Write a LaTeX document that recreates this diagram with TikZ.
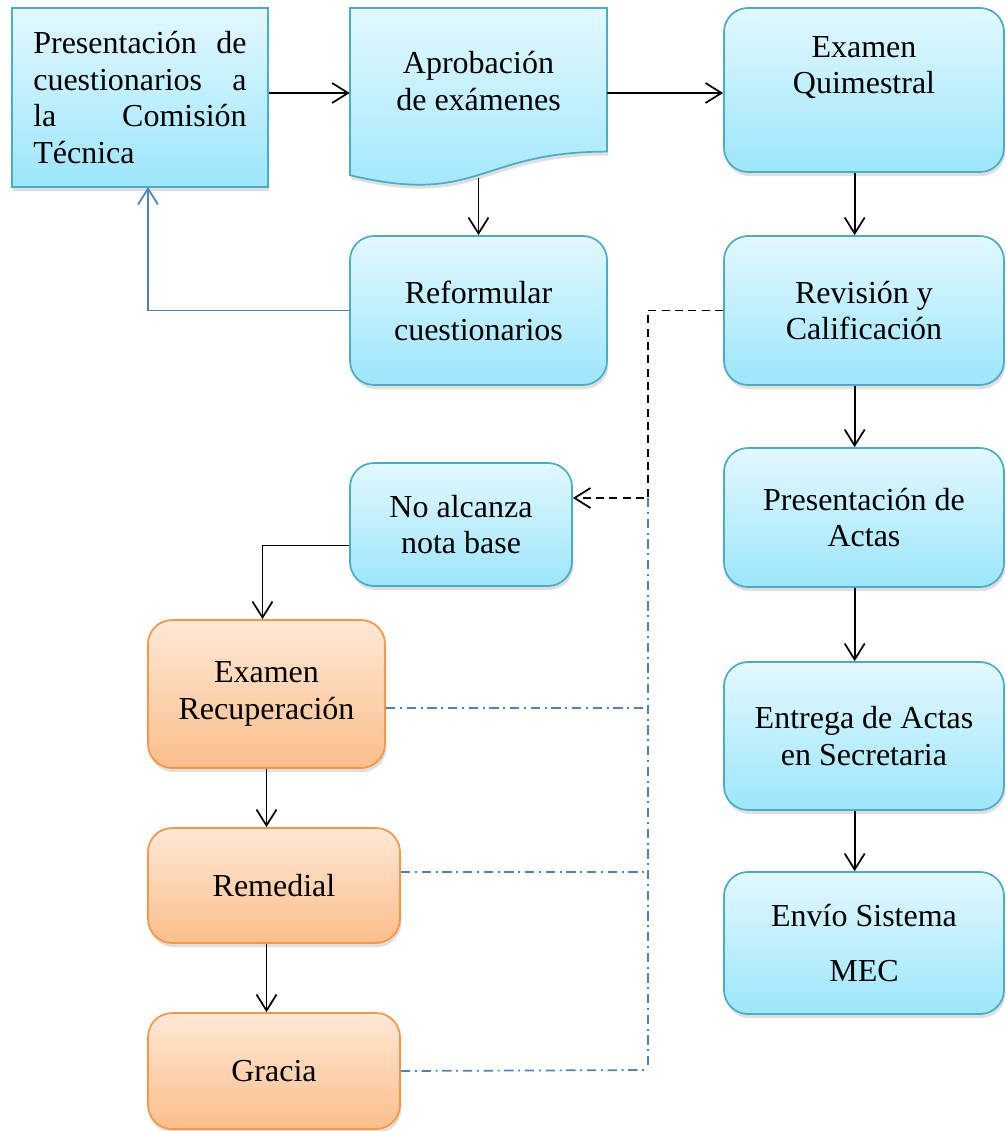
\documentclass[tikz,border=0pt]{standalone}
\usepackage{fontspec}
\setmainfont{Liberation Serif}
\usetikzlibrary{arrows.meta,shadows}

\definecolor{azularriba}{HTML}{E2F8FE}
\definecolor{azulabajo}{HTML}{9CE6FB}
\definecolor{azulborde}{HTML}{4BACC6}
\definecolor{narriba}{HTML}{FEE8D6}
\definecolor{nabajo}{HTML}{FBBE8A}
\definecolor{nborde}{HTML}{F79646}
\definecolor{lineaazul}{HTML}{4F81BD}

\newcommand{\lineajust}[1]{\leavevmode\hbox to 160pt{#1}}

\tikzset{
  caja/.style={draw=azulborde, line width=1.3pt, top color=azularriba, bottom color=azulabajo,
    rounded corners=18pt, align=center, inner sep=0pt,
    drop shadow={shadow xshift=1pt, shadow yshift=-3pt, opacity=0.25},
    font=\fontsize{24}{27.6}\selectfont},
  cajan/.style={caja, draw=nborde, top color=narriba, bottom color=nabajo},
  tam/.style 2 args={minimum width=#1*0.75pt, minimum height=#2*0.75pt},
  flecha/.style={line width=1.3pt, -{Straight Barb[length=12pt,width=15pt]}},
  flechaazul/.style={flecha, draw=lineaazul},
  discont/.style={flecha, dash pattern=on 6pt off 4pt},
  rayapunto/.style={draw=lineaazul, line width=1.3pt, dash pattern=on 7pt off 3.5pt on 1.5pt off 3.5pt}
}

\begin{document}
\begin{tikzpicture}[x=0.75pt,y=-0.75pt]
    \useasboundingbox (0,0) rectangle (1006,1131);
    % Documento: Aprobacion de examenes (borde ondulado abajo)
    \path[caja, sharp corners] (350,8) -- (607,8) -- (607,151.6)
        .. controls (478.5,151.6) and (478.5,206.2) .. (350,175.2) -- cycle;
    \node[align=center, inner sep=0pt, tam={257}{170}, font=\fontsize{24}{27.6}\selectfont]
        (aprob) at (478.5,93) {Aprobación\\de exámenes\\[-10pt]\mbox{}};
    % Columna de la izquierda arriba
    \node[caja, sharp corners, tam={256}{179}, text width=160pt, align=left] (presenta) at (140,97.5)
        {\lineajust{Presentación\hfill de}\\\lineajust{cuestionarios\hfill a}\\
         \lineajust{la\hfill Comisión}\\Técnica};
    \node[caja, tam={257}{149}] (reform) at (478.5,310.5) {Reformular\\cuestionarios};
    \node[caja, tam={222}{123}] (nota) at (461,524.5) {No alcanza\\nota base};
    % Columna de la derecha
    \node[caja, tam={280}{164}] (examen) at (864,90) {Examen\\Quimestral\\[10pt]\mbox{}};
    \node[caja, tam={280}{149}] (revision) at (864,310.5) {Revisión y\\Calificación};
    \node[caja, tam={280}{139}] (actas) at (864,517.5) {Presentación de\\Actas};
    \node[caja, tam={280}{148}] (entrega) at (864,736) {Entrega de Actas\\en Secretaria};
    \node[caja, tam={280}{142}] (envio) at (864,943) {Envío Sistema\\[13pt]MEC};
    % Recuperaciones (naranja)
    \node[cajan, tam={237}{148}] (recup) at (266.5,694) {Examen\\Recuperación};
    \node[cajan, tam={252}{115}] (remed) at (274,885.5) {Remedial};
    \node[cajan, tam={252}{116}] (gracia) at (274,1071) {Gracia};

    % Flechas principales
    \draw[flecha] (presenta.east |- aprob.west) -- (aprob.west);
    \draw[flecha] (aprob.east) -- (aprob.east -| examen.west);
    \draw[flecha] (aprob.south) -- (reform.north);
    \coordinate (retorno) at (148,187);
    \draw[flechaazul] (reform.west) -| (retorno);
    \draw[flecha] ([xshift=-7pt]examen.south) -- ([xshift=-7pt]revision.north);
    \draw[flecha] ([xshift=-7pt]revision.south) -- ([xshift=-7pt]actas.north);
    \draw[flecha] ([xshift=-7pt]actas.south) -- ([xshift=-7pt]entrega.north);
    \draw[flecha] ([xshift=-7pt]entrega.south) -- ([xshift=-7pt]envio.north);
    % Rama de los que no alcanzan
    \coordinate (cruce) at (648,498);
    \coordinate (fin) at (648,1070);
    \draw[discont] (revision.west) -| (cruce) -- (cruce -| nota.east);
    \draw[flecha] ([yshift=-15.75pt]nota.west) -| ([xshift=-3pt]recup.north);
    \draw[flecha] (recup.south) -- (recup.south |- remed.north);
    \draw[flecha] (recup.south |- remed.south) -- (recup.south |- gracia.north);
    \draw[rayapunto] (cruce) -- (fin);
    \draw[rayapunto] ([yshift=-10.5pt]recup.east) -- ([yshift=-10.5pt]recup.east -| cruce);
    \draw[rayapunto] ([yshift=10pt]remed.east) -- ([yshift=10pt]remed.east -| cruce);
    \draw[rayapunto] (gracia.east) -- (fin);
\end{tikzpicture}
\end{document}
